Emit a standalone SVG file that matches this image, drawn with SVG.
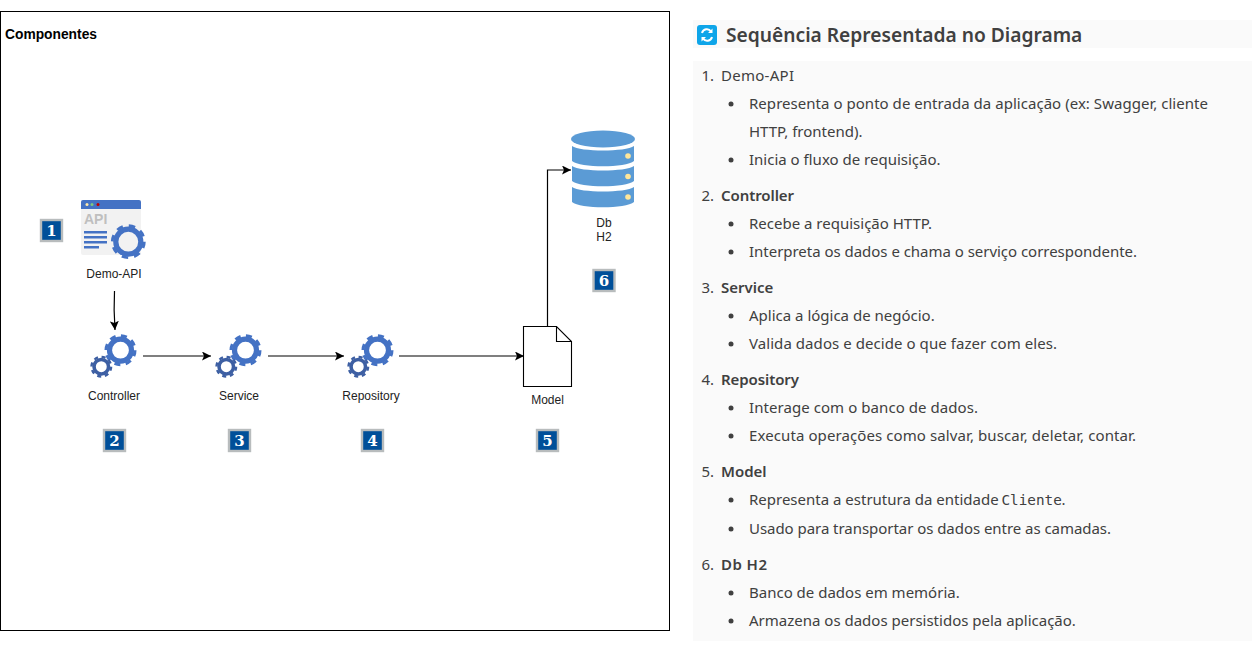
<svg xmlns="http://www.w3.org/2000/svg" width="1252" height="647" viewBox="0 0 1252 647">
<style>
.lbl{font:12px "Liberation Sans",Arial,sans-serif;fill:#222;text-anchor:middle}
.num{font:bold 15px "DejaVu Serif","Liberation Serif",serif;fill:#fff;text-anchor:middle}
.t{font:15px "Noto Sans","Open Sans",sans-serif;fill:#404040}
.b{font-weight:600}
.n{text-anchor:end}
.con{fill:none;stroke:#000;stroke-width:1.2;marker-end:url(#arr)}
.panel{fill:#fafafa}
.bul{fill:#404040}
</style>
<defs>
<marker id="arr" markerUnits="userSpaceOnUse" markerWidth="10" markerHeight="9" refX="9" refY="4.5" orient="auto"><path d="M0 0L9 4.500L0 9L2 4.500Z" fill="#000"/></marker>
<g id="bigGear"><circle r="11" fill="none" stroke="#4472c4" stroke-width="5.2"/><circle r="14.5" fill="none" stroke="#4472c4" stroke-width="3" stroke-dasharray="6 5.39"/></g>
<g id="smallGear"><circle r="7.250" fill="none" stroke="#3d5fa3" stroke-width="3.600"/><circle r="9.800" fill="none" stroke="#3d5fa3" stroke-width="2.400" stroke-dasharray="4 3.7"/></g>
<g id="gears"><use href="#bigGear" x="19.200" y="-16.500"/><use href="#smallGear"/></g>
<g id="badge"><rect x="-10.500" y="-10.500" width="21" height="21" fill="#004f99" stroke="#b8bcbd" stroke-width="2.400"/></g>
</defs>
<rect x=".5" y="11.5" width="669" height="619" fill="#fff" stroke="#000"/>
<text x="5" y="39" style="font:bold 13.800px 'Liberation Sans',Arial,sans-serif" fill="#000">Componentes</text>

<g id="connectors">
<path class="con" d="M114.500 291Q113.500 310 115 330"/>
<path class="con" d="M143 356H211"/>
<path class="con" d="M268 356H344"/>
<path class="con" d="M399 356H524"/>
<path class="con" d="M547.500 326V170H571"/>
</g>

<g id="demo-api">
<rect x="81" y="200" width="60" height="55" rx="2" fill="#f2f2f2"/>
<path d="M81 209V202a2 2 0 0 1 2-2H139a2 2 0 0 1 2 2V209Z" fill="#4472c4"/>
<circle cx="87" cy="204.500" r="1.500" fill="#ffe9a8"/><circle cx="92" cy="204.500" r="1.500" fill="#7fc97f"/><circle cx="98" cy="204.500" r="1.500" fill="#c00000"/>
<text x="84" y="224" style="font:bold 14px 'Liberation Sans',Arial,sans-serif" fill="#bfbfbf">API</text>
<path d="M84 231h23v2.500h-23zM84 236h23v2.500h-23zM84 241h23v2.500h-23zM84 246h15v2.500h-15z" fill="#4472c4"/>
<circle cx="128.300" cy="241.700" r="12.500" fill="#f2f2f2" stroke="#4472c4" stroke-width="5.200"/>
<circle cx="128.300" cy="241.700" r="16" fill="none" stroke="#4472c4" stroke-width="2.800" stroke-dasharray="6.500 6.070"/>
<text class="lbl" x="114" y="278">Demo-API</text>
</g>
<g id="badge-1"><use href="#badge" x="51.500" y="230.500"/><text class="num" x="51.500" y="236">1</text></g>

<g id="controller"><use href="#gears" x="101.300" y="366.700"/><text class="lbl" x="114" y="400">Controller</text></g>
<g id="badge-2"><use href="#badge" x="114.500" y="440.500"/><text class="num" x="114.500" y="446">2</text></g>

<g id="service"><use href="#gears" x="226.300" y="366.700"/><text class="lbl" x="239" y="400">Service</text></g>
<g id="badge-3"><use href="#badge" x="239.500" y="440.500"/><text class="num" x="239.500" y="446">3</text></g>

<g id="repository"><use href="#gears" x="358.300" y="366.700"/><text class="lbl" x="371" y="400">Repository</text></g>
<g id="badge-4"><use href="#badge" x="372.500" y="440.500"/><text class="num" x="372.500" y="446">4</text></g>

<g id="model">
<path d="M523.500 326.500H556.500L571.500 341.500V386.500H523.500ZM556.500 326.500V341.500H571.500" fill="#fff" stroke="#000" stroke-width="1.100"/>
<text class="lbl" x="547.500" y="404">Model</text>
</g>
<g id="badge-5"><use href="#badge" x="547.500" y="440.500"/><text class="num" x="547.500" y="446">5</text></g>

<g id="db">
<path d="M572 146c8 6 54 6 62 0V161c-8 7-54 7-62 0Z" fill="#5b9bd5"/>
<path d="M572 166c8 6 54 6 62 0V181c-8 7-54 7-62 0Z" fill="#5b9bd5"/>
<path d="M572 187c8 6 54 6 62 0V202c-8 7-54 7-62 0Z" fill="#5b9bd5"/>
<ellipse cx="603" cy="139" rx="32" ry="8.500" fill="#5b9bd5"/>
<circle cx="628" cy="156" r="2.800" fill="#ffe699"/><circle cx="628" cy="176.500" r="2.800" fill="#ffe699"/><circle cx="628" cy="197" r="2.800" fill="#ffe699"/>
<text class="lbl" x="604" y="227">Db</text><text class="lbl" x="604" y="241">H2</text>
</g>
<g id="badge-6"><use href="#badge" x="604" y="280.500"/><text class="num" x="604" y="286">6</text></g>

<rect class="panel" x="693" y="20" width="559" height="28"/>
<rect class="panel" x="693" y="61" width="559" height="580"/>
<g id="heading">
<rect x="697" y="25" width="20" height="20" rx="3" fill="#0ea5e9"/>
<path d="M702 33a5 5 0 0 1 9-1.500M712 37a5 5 0 0 1-9 1.500" fill="none" stroke="#fff" stroke-width="2"/>
<path d="M712.500 28.500v4.500h-4.500zM701.500 41.500v-4.500h4.500z" fill="#fff"/>
<text x="726" y="42" style="font:600 19.200px 'Noto Sans','Open Sans',sans-serif" fill="#404040">Sequência Representada no Diagrama</text>
</g>
<g id="list">
<text class="t n" x="714" y="81">1.</text><text class="t" x="721" y="81" textLength="73">Demo-API</text>
<circle class="bul" cx="731" cy="104" r="2.500"/><text class="t" x="749" y="109" textLength="459">Representa o ponto de entrada da aplicação (ex: Swagger, cliente</text>
<text class="t" x="749" y="137">HTTP, frontend).</text>
<circle class="bul" cx="731" cy="160" r="2.500"/><text class="t" x="749" y="165">Inicia o fluxo de requisição.</text>

<text class="t n" x="714" y="201">2.</text><text class="t b" x="721" y="201" textLength="73">Controller</text>
<circle class="bul" cx="731" cy="224" r="2.500"/><text class="t" x="749" y="229">Recebe a requisição HTTP.</text>
<circle class="bul" cx="731" cy="252" r="2.500"/><text class="t" x="749" y="257" textLength="388">Interpreta os dados e chama o serviço correspondente.</text>

<text class="t n" x="714" y="293">3.</text><text class="t b" x="721" y="293">Service</text>
<circle class="bul" cx="731" cy="316" r="2.500"/><text class="t" x="749" y="321">Aplica a lógica de negócio.</text>
<circle class="bul" cx="731" cy="344" r="2.500"/><text class="t" x="749" y="349" textLength="308">Valida dados e decide o que fazer com eles.</text>

<text class="t n" x="714" y="385">4.</text><text class="t b" x="721" y="385" textLength="78">Repository</text>
<circle class="bul" cx="731" cy="408" r="2.500"/><text class="t" x="749" y="413" textLength="229">Interage com o banco de dados.</text>
<circle class="bul" cx="731" cy="436" r="2.500"/><text class="t" x="749" y="441" textLength="387">Executa operações como salvar, buscar, deletar, contar.</text>

<text class="t n" x="714" y="477">5.</text><text class="t b" x="721" y="477">Model</text>
<circle class="bul" cx="731" cy="500" r="2.500"/><text class="t" x="749" y="505">Representa a estrutura da entidade</text><text x="1001.500" y="505" style="font:14.300px 'DejaVu Sans Mono','Liberation Mono',monospace" fill="#404040">Cliente</text><text class="t" x="1061.500" y="505">.</text>
<circle class="bul" cx="731" cy="529" r="2.500"/><text class="t" x="749" y="534" textLength="362">Usado para transportar os dados entre as camadas.</text>

<text class="t n" x="714" y="570">6.</text><text class="t b" x="721" y="570" textLength="46">Db H2</text>
<circle class="bul" cx="731" cy="593" r="2.500"/><text class="t" x="749" y="598">Banco de dados em memória.</text>
<circle class="bul" cx="731" cy="621" r="2.500"/><text class="t" x="749" y="626">Armazena os dados persistidos pela aplicação.</text>
</g>
</svg>
